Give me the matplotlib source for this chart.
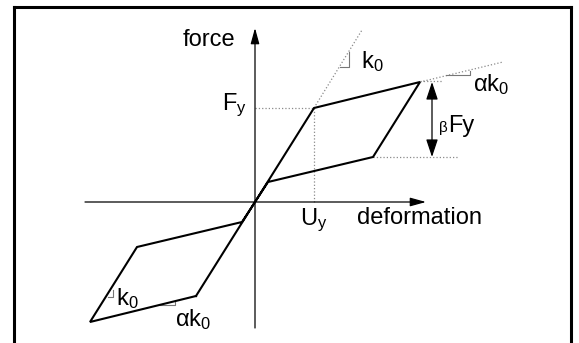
import matplotlib
matplotlib.use('Agg')
import matplotlib.pyplot as plt
from matplotlib.lines import Line2D

plt.rcParams['font.family'] = ['Liberation Sans', 'DejaVu Sans']
plt.rcParams['mathtext.default'] = 'regular'

# hysteresis loop (deformation, force)
loop_u = [-59, 59, 165, 118, 13, -13, -118, -165, -59]
loop_f = [-94, 94, 120, 45, 20, -20, -45, -120, -94]

# yield point
uy, fy = 59, 94
# peak and unloading point
peak_u, peak_f = 165, 120
unl_u, unl_f = 118, 45

# dotted guide extensions
k0_ext_u = [59, 107]
k0_ext_f = [94, 172]
ak0_ext_u = [165, 248]
ak0_ext_f = [120, 140]

fig = plt.figure(figsize=(5.79, 3.43), dpi=100)
ax = fig.add_axes([0, 0, 1, 1])
ax.set_xlim(-255, 324)
ax.set_ylim(-141, 202)
ax.axis('off')

axis_col = '#555555'
dot_col = '#8a8a8a'
tri_col = '#777777'

# axes with arrows
ax.annotate('', xy=(171, 0), xytext=(-170, 0),
            arrowprops=dict(arrowstyle='-|>,head_length=0.8,head_width=0.22',
                            mutation_scale=12, lw=0.9, color=axis_col,
                            fc='black', ec='black', shrinkA=0, shrinkB=0))
ax.annotate('', xy=(0, 174), xytext=(0, -126),
            arrowprops=dict(arrowstyle='-|>,head_length=0.8,head_width=0.22',
                            mutation_scale=12, lw=0.9, color=axis_col,
                            fc='black', ec='black', shrinkA=0, shrinkB=0))

# dotted helper lines
ax.plot([0, uy], [fy, fy], ls=':', color=dot_col, lw=0.9)
ax.plot([uy, uy], [0, fy], ls=':', color=dot_col, lw=0.9)
ax.plot(k0_ext_u, k0_ext_f, ls=':', color=dot_col, lw=0.9)
ax.plot(ak0_ext_u, ak0_ext_f, ls=':', color=dot_col, lw=0.9)
ax.plot([peak_u, 188], [peak_f + 1, peak_f + 1], ls=':', color=dot_col, lw=0.9)
ax.plot([unl_u, 204], [unl_f, unl_f], ls=':', color=dot_col, lw=0.9)

# slope triangles
ax.plot([85, 94, 94], [135, 135, 150], color=tri_col, lw=0.8)
ax.plot([191, 215, 215], [127, 127, 131], color=tri_col, lw=0.8)
ax.plot([-147, -142, -142], [-95, -95, -88], color=tri_col, lw=0.8)
ax.plot([-95, -80, -80], [-103, -103, -100], color=tri_col, lw=0.8)

# main loop
ax.plot(loop_u, loop_f, color='black', lw=1.5, solid_joinstyle='miter')

# beta Fy arrow
ax.annotate('', xy=(177, unl_f), xytext=(177, peak_f),
            arrowprops=dict(arrowstyle='<|-|>,head_length=0.9,head_width=0.3',
                            mutation_scale=12, lw=0.9, color='black',
                            shrinkA=0, shrinkB=0))

fs = 17
ax.text(-46, 162, 'force', fontsize=fs, ha='center', va='center')
ax.text(165, -16, 'deformation', fontsize=fs, ha='center', va='center')
ax.text(59, -18, 'U$_y$', fontsize=fs, ha='center', va='center')
ax.text(-8, 97, 'F$_y$', fontsize=fs, ha='right', va='center')
ax.text(193, 70, '\u03b2', fontsize=11, ha='right', va='baseline')
ax.text(193, 70, 'Fy', fontsize=fs, ha='left', va='baseline')
ax.text(117, 140, 'k$_0$', fontsize=fs, ha='center', va='center')
ax.text(236, 117, '\u03b1k$_0$', fontsize=fs, ha='center', va='center')
ax.text(-128, -97, 'k$_0$', fontsize=fs, ha='center', va='center')
ax.text(-62, -118, '\u03b1k$_0$', fontsize=fs, ha='center', va='center')

# outer frame (top, left, right)
W, H = 579, 343
frame = dict(color='black', lw=2.2, transform=fig.transFigure)
fig.add_artist(Line2D([14 / W, 571 / W], [1 - 7 / H, 1 - 7 / H], **frame))
fig.add_artist(Line2D([14 / W, 14 / W], [0, 1 - 7 / H], **frame))
fig.add_artist(Line2D([571 / W, 571 / W], [0, 1 - 7 / H], **frame))

fig.savefig('out.png', dpi=100)
